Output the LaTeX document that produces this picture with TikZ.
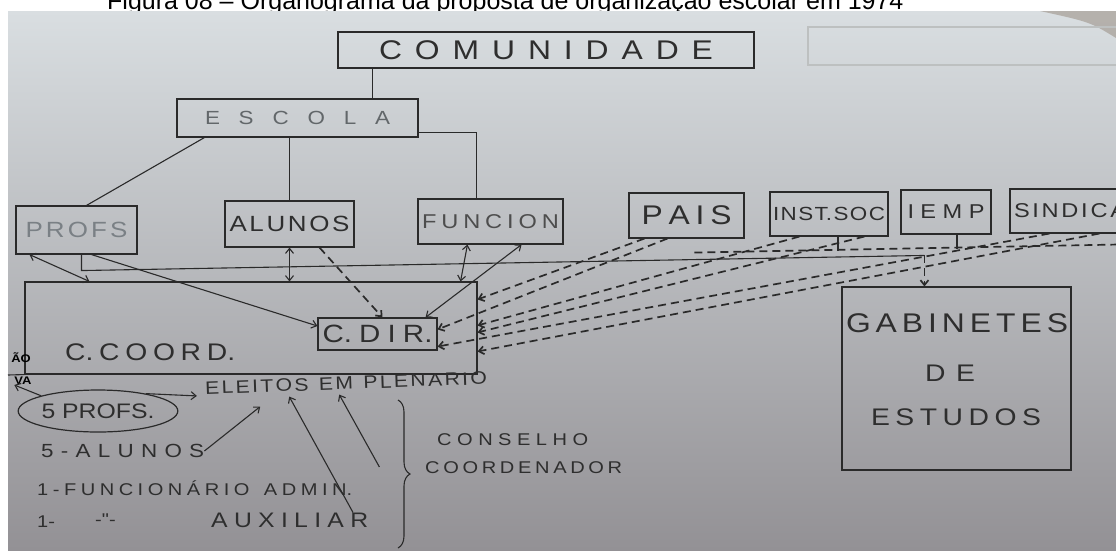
\documentclass[tikz,border=0pt]{standalone}
\usepackage{fontspec}
\setmainfont{Liberation Sans}
\newfontfamily\hand{Liberation Sans}[FakeStretch=1.18]
\usetikzlibrary{arrows.meta,calc,decorations.pathreplacing,shapes.geometric}
\definecolor{ink}{HTML}{2A2A2A}
\definecolor{txt}{HTML}{2E2E2E}
\definecolor{faded}{HTML}{7A8085}
\definecolor{bgtop}{HTML}{D9DEE1}
\definecolor{bgmid}{HTML}{C3C5C7}
\definecolor{bgbot}{HTML}{939195}
\definecolor{ghost}{HTML}{BDC0C0}
\definecolor{corner}{HTML}{9E948A}
\newcommand\sprd[2]{\makebox[#1][s]{\spaceskip=0pt plus 1fil\relax #2}}
\newcommand\fs[1]{\hand\fontsize{#1}{#1}\selectfont}
\tikzset{
  ln/.style={draw=ink, line width=1.1pt},
  dln/.style={draw=ink, line width=1.7pt, dash pattern=on 8pt off 5pt},
  box/.style={draw=ink, line width=1.1pt, inner sep=0pt, text=txt},
  lbl/.style={inner sep=0pt, text=txt},
  >={Straight Barb[length=5pt,width=8pt]},
}
\begin{document}
\begin{tikzpicture}[x=1pt,y=-1pt]
\useasboundingbox (0,0) rectangle (1116,550);
\fill[white] (0,0) rectangle (1116,550);
% caption (cut at the top, as in the scan)
\node[anchor=base west, inner sep=0pt, font=\fontsize{25}{25}\selectfont] (caption) at (107,9) {Figura 08 – Organograma da proposta de organização escolar em 1974};
% photo background
\shade[top color=bgtop, middle color=bgmid, bottom color=bgbot] (8,11) rectangle (1116,550);
\fill[corner, opacity=0.6] (1040,11) -- (1116,11) -- (1116,38) .. controls (1090,22) .. (1040,11);
% ghost of the facing page
\draw[ghost, line width=1.2pt] (808,27) rectangle (1122,65);

% boxes
\node[box, minimum width=416, minimum height=36, font=\fs{27}] (comunidade) at (546,50) {\sprd{334pt}{C O M U N I D A D E}};
\node[box, minimum width=241, minimum height=38, font=\fs{19}, text=faded!80!black] (escola) at (297.5,118) {\sprd{185pt}{E S C O L A}};
\node[box, minimum width=121, minimum height=48, font=\fs{22}, text=faded] (profs) at (76.5,230) {\sprd{102pt}{P R O F S}};
\node[box, minimum width=129, minimum height=46, font=\fs{22}] (alunos) at (289.5,224) {\sprd{120pt}{A L U N O S}};
\node[box, minimum width=145, minimum height=45, font=\fs{20}, text=txt!85!white] (funcion) at (490.5,221.5) {\sprd{137pt}{F U N C I O N}};
\node[box, minimum width=115, minimum height=45, font=\fs{27}] (pais) at (686.5,215.5) {\sprd{90pt}{P A I S}};
\node[box, minimum width=118, minimum height=44, font=\fs{19}] (instsoc) at (829,214) {\sprd{112pt}{I N S T. S O C}};
\node[box, minimum width=90, minimum height=44, font=\fs{20}] (iemp) at (946,212) {\sprd{77pt}{I E M P}};
\node[box, minimum width=120, minimum height=44, font=\fs{20}] (sindica) at (1070,211) {\sprd{112pt}{S I N D I C A}};

\node[box, minimum width=452, minimum height=92] (ccoord) at (251,328) {};
\node[lbl, font=\fs{24}, anchor=west] (ccoordlbl) at (65,352) {\sprd{170pt}{C. C O O R D.}};
\node[box, minimum width=119, minimum height=32, font=\fs{25}] (cdir) at (377.5,334) {\sprd{110pt}{C. D I R.}};

\node[box, minimum width=229, minimum height=183] (gab) at (956.5,378.5) {};
\node[lbl, font=\fs{27}] (gab1) at (957,323) {\sprd{222pt}{G A B I N E T E S}};
\node[lbl, font=\fs{24}] (gab2) at (950,373) {\sprd{50pt}{D E}};
\node[lbl, font=\fs{24}] (gab3) at (956,417) {\sprd{170pt}{E S T U D O S}};

% hierarchy
\draw[ln] ($(comunidade.south west)+(35,0)$) coordinate (c1) -- (c1 |- escola.north);
\draw[ln] ($(escola.south west)+(28,0)$) -- ($(profs.north west)+(71,0)$);
\draw[ln] (alunos.north |- escola.south) -- (alunos.north);
\draw[ln] ($(escola.south east)+(0,-5)$) -| ($(funcion.north west)+(59,0)$);

% PROFS
\draw[ln,<->] ($(profs.south west)+(14,0)$) -- ($(ccoord.north west)+(65,0)$);
\draw[ln,->] ($(profs.south west)+(76,0)$) -- ($(cdir.west)+(0,-8)$);
\coordinate (g1) at ($(gab.north west)+(83,-31)$);
\draw[ln] ($(profs.south west)+(66,0)$) -- ++(0,16) -- (g1);
\draw[dln,->] (g1) -- (g1 |- gab.north);

% institutions line
\coordinate (h1) at ($(instsoc.south west)+(-75,16)$);
\coordinate (h2) at ($(sindica.south east)+(-14,11)$);
\draw[dln] (h1) -- (h2);
\draw[ln] ($(instsoc.south)+(9,0)$) -- ++(0,14);
\draw[ln] ($(iemp.south)+(11,0)$) -- ++(0,14);

% ALUNOS
\draw[ln,<->] (alunos.south) -- (alunos.south |- ccoord.north);
\draw[dln,->] ($(alunos.south)+(30,0)$) -- ($(cdir.north)+(5,0)$);

% FUNCION
\draw[ln,<->] ($(funcion.south west)+(50,0)$) -- ($(ccoord.north east)+(-17,0)$);
\draw[ln,<->] ($(funcion.south east)+(-42,0)$) -- ($(cdir.north east)+(-12,0)$);

% dashed links from the community bodies
\draw[dln,->] ($(pais.south west)+(16,0)$) -- ($(ccoord.north east)+(0,18)$);
\draw[dln,->] ($(pais.south west)+(39,0)$) -- ($(cdir.north east)+(0,12)$);
\draw[dln,->] ($(instsoc.south west)+(30,0)$) -- ($(ccoord.north east)+(0,44)$);
\draw[dln,->] ($(instsoc.south west)+(95,0)$) -- ($(ccoord.north east)+(0,51)$);
\draw[dln,->] ($(sindica.south west)+(40,0)$) -- ($(cdir.south east)+(0,-4)$);
\draw[dln,->] ($(sindica.south west)+(90,0)$) -- ($(ccoord.north east)+(0,70)$);

% lower notes
\node[lbl, font=\fs{11}\bfseries, text=black] (ao) at (21,358) {ÃO};
\node[lbl, font=\fs{11}\bfseries, text=black] (va) at (23,381) {VA};
\draw[ln] (8,375) -- (ccoord.south west);
\node[lbl, font=\fs{18}, rotate=2] (eleitos) at (346,383) {\sprd{282pt}{E L E I T O S\hspace{8pt} E M\hspace{8pt} P L E N A R I O}};
\node[ellipse, draw=ink, line width=1.2pt, minimum width=154, minimum height=42, inner sep=0pt, font=\fs{21}, text=txt] (cinco) at (98,411) {5 PROFS.};
\draw[ln,->] (cinco.165) -- (va.south west);
\draw[ln,->] (cinco.20) -- ($(eleitos.west)+(-8,8)$);
\node[lbl, font=\fs{19}, anchor=west] (alunos5) at (41,451) {\sprd{163pt}{5 - A L U N O S}};
\draw[ln,->] (alunos5.east) -- ($(eleitos.south)+(-86,17)$);
\node[lbl, font=\fs{17}, anchor=west] (func1) at (37,488) {\sprd{315pt}{1 - F U N C I O N Á R I O\hspace{10pt} A D M I N.}};
\node[lbl, font=\fs{17}, anchor=west] (aux1) at (37,522) {1-};
\node[lbl, font=\fs{17}, anchor=west] (aux2) at (95,520) {-\symbol{34}-};
\node[lbl, font=\fs{21}, anchor=west] (aux3) at (211,520) {\sprd{157pt}{A U X I L I A R}};
\draw[ln,->] ($(aux3.north west)+(142,0)$) -- ($(eleitos.south)+(-57,7)$);
\draw[ln,->] ($(func1.east)+(27,-21)$) -- ($(eleitos.south)+(-7,5)$);
\draw[ln, decorate, decoration={brace, amplitude=12pt}] (398,400) -- (398,548);
\node[lbl, font=\fs{17}, anchor=west] (cons1) at (437,440) {\sprd{151pt}{C O N S E L H O}};
\node[lbl, font=\fs{17}, anchor=west] (cons2) at (425,468) {\sprd{197pt}{C O O R D E N A D O R}};
\end{tikzpicture}
\end{document}
